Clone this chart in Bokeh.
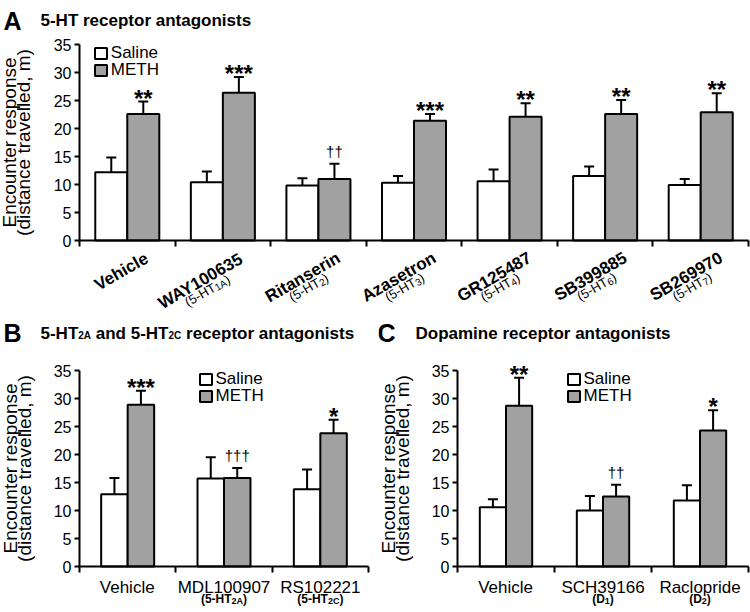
import math
from bokeh.plotting import figure
from bokeh.models import (ColumnDataSource, Legend, LegendItem, Range1d,
                          FixedTicker, Whisker, TeeHead, LinearAxis)
from bokeh.core.properties import value
from bokeh.layouts import column, row
from bokeh.embed import file_html
from bokeh.resources import INLINE

FONT = "Liberation Sans"

# ---------------- data ----------------
a_drugs = ["Vehicle", "WAY100635", "Ritanserin", "Azasetron", "GR125487", "SB399885", "SB269970"]
a_rec_base = ["", "5-HT", "5-HT", "5-HT", "5-HT", "5-HT", "5-HT"]
a_rec_sub = ["", "1A", "2", "3", "4", "6", "7"]
a_saline = [12.2, 10.4, 9.8, 10.3, 10.6, 11.5, 9.9]
a_saline_sem = [2.6, 1.9, 1.3, 1.2, 2.1, 1.7, 1.1]
a_meth = [22.6, 26.4, 11.0, 21.4, 22.1, 22.6, 22.9]
a_meth_sem = [2.2, 2.8, 2.7, 1.2, 2.4, 2.5, 3.4]
a_sig = ["**", "***", "††", "***", "**", "**", "**"]

b_drugs = ["Vehicle", "MDL100907", "RS102221"]
b_rec_base = ["", "5-HT", "5-HT"]
b_rec_sub = ["", "2A", "2C"]
b_saline = [12.9, 15.7, 13.8]
b_saline_sem = [2.9, 3.8, 3.5]
b_meth = [28.9, 15.8, 23.8]
b_meth_sem = [2.5, 1.8, 2.4]
b_sig = ["***", "†††", "*"]

c_drugs = ["Vehicle", "SCH39166", "Raclopride"]
c_rec_base = ["", "D", "D"]
c_rec_sub = ["", "1", "2"]
c_saline = [10.6, 10.0, 11.8]
c_saline_sem = [1.4, 2.6, 2.7]
c_meth = [28.7, 12.5, 24.3]
c_meth_sem = [5.0, 2.1, 3.6]
c_sig = ["**", "††", "*"]

y_ticks = [0, 5, 10, 15, 20, 25, 30, 35]
Y_MAX = 35
series_names = ["Saline", "METH"]
series_colors = ["white", "#a1a1a1"]
y_label_lines = ["Encounter response", "(distance travelled, m)"]

# ---------------- text metrics (Arial / Liberation Sans) ----------------
REG = {' ': 278, '(': 333, ')': 333, ',': 278, '-': 333, '*': 389, '†': 556,
       'A': 667, 'B': 667, 'C': 722, 'D': 722, 'E': 667, 'G': 778, 'H': 722, 'L': 556,
       'M': 833, 'N': 722, 'P': 667, 'R': 722, 'S': 667, 'T': 611, 'V': 667, 'W': 944, 'Y': 667,
       'a': 556, 'b': 556, 'c': 500, 'd': 556, 'e': 556, 'g': 556, 'h': 556, 'i': 222, 'l': 222,
       'm': 833, 'n': 556, 'o': 556, 'p': 556, 'r': 333, 's': 500, 't': 278, 'u': 556, 'v': 500,
       'y': 500, 'z': 500}
BOLD = {' ': 278, '(': 333, ')': 333, ',': 278, '-': 333, '*': 389, '†': 556,
        'A': 722, 'B': 722, 'C': 722, 'D': 722, 'E': 667, 'G': 778, 'H': 722, 'L': 611,
        'M': 833, 'N': 722, 'P': 667, 'R': 722, 'S': 667, 'T': 611, 'V': 667, 'W': 944, 'Y': 667,
        'a': 556, 'b': 611, 'c': 556, 'd': 611, 'e': 556, 'g': 611, 'h': 611, 'i': 278, 'l': 278,
        'm': 889, 'n': 611, 'o': 611, 'p': 611, 'r': 389, 's': 556, 't': 333, 'u': 611, 'v': 556,
        'y': 556, 'z': 500}
MID = 0.31  # "middle" anchor sits about 0.31 em above the alphabetic baseline


def tw(s, size, bold=False):
    tbl = BOLD if bold else REG
    return sum(tbl.get(ch, 556) for ch in s) * size / 1000.0


def put_text(p, xd, yd, t, size, bold=False, angle=0.0, align="left", baseline="middle"):
    p.text(x=[xd], y=[yd], text=[t], angle=angle, text_font=value(FONT),
           text_font_size=value(f"{size}px"), text_font_style="bold" if bold else "normal",
           text_align=align, text_baseline=baseline, text_color="black")


def put_runs(p, runs, xbase, ox, oy, angle=0.0, align="left"):
    """runs: (text, size, bold, drop). (ox, oy): alphabetic-baseline anchor in px relative
    to the data point (xbase, 0), y upwards."""
    ppx, ppu = p.tags
    W = sum(tw(t, s, b) for t, s, b, d in runs)
    c, sn = math.cos(angle), math.sin(angle)
    cum = {"left": 0.0, "center": -W / 2.0, "right": -W}[align]
    for t, s, b, d in runs:
        up = MID * s - d
        px = ox + cum * c - up * sn
        py = oy + cum * sn + up * c
        if t.strip():
            put_text(p, xbase + px / ppx, py / ppu, t, s, b, angle)
        cum += tw(t, s, b)


def make_panel(w, h, bl, br, bt, bb, saline, saline_sem, meth, meth_sem, sig, bar_w,
               legend_x, legend_rows, ylab_x):
    n = len(saline)
    ppx = (w - bl - br) / n
    ppu = (h - bt - bb) / Y_MAX
    p = figure(width=w, height=h,
               x_range=Range1d(-bl / ppx, n + br / ppx),
               y_range=Range1d(-bb / ppu, Y_MAX + bt / ppu),
               output_backend="svg", toolbar_location=None, tools="",
               x_axis_location=None, y_axis_location=None,
               min_border=0, min_border_left=0, min_border_right=0,
               min_border_top=0, min_border_bottom=0)
    p.tags = [ppx, ppu]
    p.xgrid.visible = False
    p.ygrid.visible = False
    p.outline_line_color = None
    p.background_fill_color = "white"
    p.border_fill_color = "white"

    centers = [i + 0.5 for i in range(n)]
    xs = [c - bar_w / 2 for c in centers]
    xm = [c + bar_w / 2 for c in centers]
    src_s = ColumnDataSource(dict(x=xs, top=saline, cap=[v + e for v, e in zip(saline, saline_sem)]))
    src_m = ColumnDataSource(dict(x=xm, top=meth, cap=[v + e for v, e in zip(meth, meth_sem)]))

    rends = []
    for src, col in ((src_s, series_colors[0]), (src_m, series_colors[1])):
        r = p.vbar(x="x", top="top", bottom=0, width=bar_w, source=src, fill_color=col,
                   line_color="black", line_width=2)
        rends.append(r)
        p.add_layout(Whisker(source=src, base="x", lower="top", upper="cap", dimension="height",
                             line_color="black", line_width=2, lower_head=None,
                             upper_head=TeeHead(size=10, line_width=2, line_color="black")))

    caps = src_m.data["cap"]
    for i, s in enumerate(sig):
        if "*" in s:
            put_text(p, xm[i], caps[i] + 3.5 / ppu, s, 24, True, align="center")
        else:
            put_text(p, xm[i], caps[i] + 12.5 / ppu, s, 15, False, align="center")

    # axes fixed at the data origin
    yax = LinearAxis(fixed_location=0, bounds=(0, Y_MAX), ticker=FixedTicker(ticks=y_ticks))
    xax = LinearAxis(fixed_location=0, bounds=(0, n), ticker=FixedTicker(ticks=list(range(n + 1))))
    xax.major_label_overrides = {i: "" for i in range(n + 1)}
    for ax in (xax, yax):
        ax.axis_line_width = 2
        ax.axis_line_color = "black"
        ax.major_tick_line_width = 2
        ax.major_tick_line_color = "black"
        ax.major_tick_in = 0
        ax.minor_tick_in = 0
        ax.minor_tick_out = 0
    yax.major_tick_out = 5
    xax.major_tick_out = 6
    xax.major_label_text_font_size = "1px"
    yax.major_label_text_font = FONT
    yax.major_label_text_font_size = "16px"
    yax.major_label_text_color = "black"
    yax.major_label_standoff = 3
    p.add_layout(yax, "left")
    p.add_layout(xax, "below")

    # y label (two lines)
    for txt, xx in zip(y_label_lines, ylab_x):
        put_text(p, xx / ppx, Y_MAX / 2, txt, 19, False, angle=math.pi / 2, align="center")

    # legend: one single-item legend per row for exact placement
    for k in range(2):
        lg = Legend(items=[LegendItem(label=series_names[k], renderers=[rends[k]])],
                    location=(bl + legend_x, bb + legend_rows[k] - 9.5), orientation="vertical",
                    label_text_font=FONT, label_text_font_size="17px", label_text_color="black",
                    glyph_width=15, glyph_height=14, label_height=14, label_standoff=3,
                    spacing=0, padding=0, margin=0, border_line_color=None,
                    background_fill_alpha=0)
        p.add_layout(lg)
    return p


# ---------------- panel A ----------------
pA = make_panel(750, 316, 79, 2, 44, 76, a_saline, a_saline_sem, a_meth, a_meth_sem, a_sig,
                0.335, 13.8, (186.7, 169.3), (-70, -56))
TH = math.radians(30)
u = (math.cos(TH), math.sin(TH))
nv = (math.sin(TH), -math.cos(TH))
for i, name in enumerate(a_drugs):
    L = tw(name, 17, True)
    br = (23.0, -20.5)
    put_runs(pA, [(name, 17, True, 0)], i + 0.5, br[0], br[1], TH, "right")
    if a_rec_sub[i]:
        cx = br[0] - (L / 2) * u[0] + 10.5 * nv[0]
        cy = br[1] - (L / 2) * u[1] + 10.5 * nv[1]
        put_runs(pA, [("(" + a_rec_base[i], 13, False, 0), (a_rec_sub[i], 10, False, 1),
                      (")", 13, False, 0)], i + 0.5, cx, cy, TH, "center")
put_runs(pA, [("A", 25, True, 0)], 0, -76, 212)
put_runs(pA, [("5-HT receptor antagonists", 17, True, 0)], 0, -39, 215)

# ---------------- panel B ----------------
pB = make_panel(378, 294, 79, 10, 54, 44, b_saline, b_saline_sem, b_meth, b_meth_sem, b_sig,
                0.275, 118.5, (187, 169.3), (-69, -55))
for i, name in enumerate(b_drugs):
    put_runs(pB, [(name, 17, False, 0)], i + 0.5, 0, -26, 0.0, "center")
    if b_rec_sub[i]:
        put_runs(pB, [("(" + b_rec_base[i], 12, True, 0), (b_rec_sub[i], 9, True, 1),
                      (")", 12, True, 0)], i + 0.5, 0, -36, 0.0, "center")
put_runs(pB, [("B", 25, True, 0)], 0, -76, 226)
put_runs(pB, [("5-HT", 17, True, 0), ("2A", 10, True, 0), (" ", 17, True, 0),
              ("and 5-HT", 17, True, 0), ("2C", 10, True, 0), (" ", 17, True, 0),
              ("receptor antagonists", 17, True, 0)], 0, -39, 228)

# ---------------- panel C ----------------
pC = make_panel(372, 294, 79, 2, 54, 44, c_saline, c_saline_sem, c_meth, c_meth_sem, c_sig,
                0.27, 108.5, (187, 169.3), (-69, -55))
for i, name in enumerate(c_drugs):
    put_runs(pC, [(name, 17, False, 0)], i + 0.5, 0, -26, 0.0, "center")
    if c_rec_sub[i]:
        put_runs(pC, [("(" + c_rec_base[i], 12, True, 0), (c_rec_sub[i], 9, True, 1),
                      (")", 12, True, 0)], i + 0.5, 0, -36, 0.0, "center")
put_runs(pC, [("C", 25, True, 0)], 0, -80, 226)
put_runs(pC, [("Dopamine receptor antagonists", 17, True, 0)], 0, -42, 228)

layout = column(pA, row(pB, pC))
open("out.html", "w").write(file_html(layout, INLINE))
